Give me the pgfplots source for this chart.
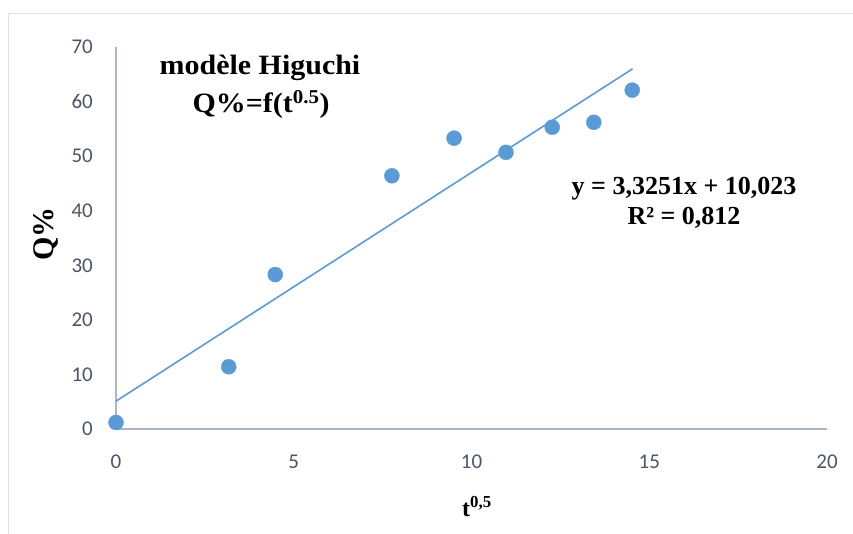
\documentclass[border=0pt]{standalone}
\usepackage{fontspec}
\setmainfont{Liberation Serif}
\newfontfamily\calib{Carlito}
\usepackage{pgfplots}
\pgfplotsset{compat=1.18}
\definecolor{ptblue}{HTML}{5B9BD5}
\definecolor{axgray}{HTML}{ADB6C7}
\definecolor{tickc}{HTML}{4A5568}
\definecolor{framec}{HTML}{DDE1E6}
\begin{document}
\begin{tikzpicture}[x=1pt,y=1pt]
\useasboundingbox (0,0) rectangle (853,534);
\draw[framec, line width=1pt] (8.5,0) -- (8.5,520) -- (853,520);
\begin{axis}[at={(116pt,105pt)}, anchor=south west, scale only axis,
  width=711pt, height=382pt, xmin=0, xmax=20, ymin=0, ymax=70,
  axis lines*=left, axis line style={axgray, line width=1.1pt, -},
  xtick={0,5,...,20}, ytick={0,10,...,70}, major tick length=0pt,
  tick label style={font=\calib\fontsize{21}{21}\selectfont, text=tickc, inner sep=0pt, /pgf/number format/assume math mode=true},
  xticklabel style={yshift=-26pt}, yticklabel style={xshift=-23pt},
  clip=false]
\addplot[only marks, mark=*, mark size=7.5pt, mark options={draw=ptblue, fill=ptblue}] coordinates {
(0,1.2) (3.17,11.4) (4.48,28.3) (7.76,46.4) (9.51,53.3) (10.97,50.7) (12.27,55.3) (13.44,56.2) (14.52,62.1)};
\addplot[ptblue, line width=1.6pt] coordinates {(0,5.1) (14.53,66.0)};
\end{axis}
\node[anchor=base, font=\fontsize{28}{32}\selectfont\bfseries] at (260,459) {\scalebox{1.07}[1]{modèle Higuchi}};
\node[anchor=base, font=\fontsize{28}{32}\selectfont\bfseries] at (261,421) {\scalebox{1.07}[1]{Q\%=f(t\textsuperscript{0.5})}};
\node[anchor=base, font=\fontsize{26}{30}\selectfont\bfseries] at (684,339) {y = 3,3251x + 10,023};
\node[anchor=base, font=\fontsize{26}{30}\selectfont\bfseries] at (684,309) {R² = 0,812};
\node[anchor=base west, font=\fontsize{24}{28}\selectfont\bfseries, inner sep=0pt] at (462,17) {t\textsuperscript{0,5}};
\node[anchor=base, rotate=90, inner sep=0pt, font=\fontsize{30}{34}\selectfont\bfseries] at (53,300) {Q\%};
\end{tikzpicture}
\end{document}
